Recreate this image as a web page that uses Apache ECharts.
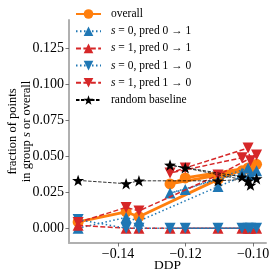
<!DOCTYPE html>
<html><head><meta charset="utf-8">
<script src="https://cdn.jsdelivr.net/npm/echarts@6/dist/echarts.min.js"></script>
<style>html,body{margin:0;padding:0;background:#fff}#c{width:274px;height:277px}</style>
</head><body><div id="c"></div>
<script>
// points in plotting order (DDP on x)
const ddp            = [-0.1518,-0.1376,-0.1338,-0.1104,-0.0990,-0.1033,-0.1246,-0.1201,-0.1015,-0.1008];
const overall        = [0.0044, 0.0113, 0.0080, 0.0340, 0.0445, 0.0400, 0.0308, 0.0350, 0.0420, 0.0410];
const s0Pred01       = [0.0000, 0.0075, 0.0050, 0.0290, 0.0400, 0.0385, 0.0245, 0.0270, 0.0420, 0.0370];
const s1Pred01       = [0.0020, 0,      0,      0,      0,      0,      0,      0,      0,      0     ];
const s0Pred10       = [0.0060, 0,      0,      0,      0,      0,      0,      0,      0,      0     ];
const s1Pred10       = [0.0040, 0.0145, 0.0120, 0.0370, 0.0510, 0.0490, 0.0385, 0.0420, 0.0558, 0.0470];
const randomBaseline = [0.0333, 0.0310, 0.0330, 0.0330, 0.0345, 0.0357, 0.0440, 0.0420, 0.0330, 0.0300];
const yTicks = [0, 0.025, 0.05, 0.075, 0.1, 0.125];
const xTicks = [-0.14, -0.12, -0.10];
const seriesNames = ['overall','s=0, pred 0\u21921','s=1, pred 0\u21921','s=0, pred 1\u21920','s=1, pred 1\u21920','random baseline'];

const FONT = 'Liberation Serif';
const STAR = 'path://M0,-10 L2.35,-3.24 L9.51,-3.09 L3.8,1.24 L5.88,8.09 L0,4 L-5.88,8.09 L-3.8,1.24 L-9.51,-3.09 L-2.35,-3.24 Z';

function pts(vals){ return ddp.map((x,i)=>[x, vals[i]]); }
function mk(name, vals, color, symbol, rot, dash, width, size, z){
  return {
    name, type:'line', data: pts(vals), z,
    symbol, symbolSize:size, symbolRotate:rot, symbolKeepAspect:true,
    lineStyle:{color, width, type:dash},
    itemStyle:{color, borderColor:color, borderWidth:0},
    emphasis:{disabled:true}, animation:false, clip:false
  };
}
const chart = echarts.init(document.getElementById('c'), null, {renderer:'canvas'});
chart.setOption({
  animation:false,
  backgroundColor:'#fff',
  grid:{left:69, right:8, top:20, bottom:34, containLabel:false, outerBoundsMode:'none'},
  xAxis:{
    type:'value', min:-0.1545, max:-0.0962,
    name:'DDP', nameLocation:'middle', nameGap:15, nameMoveOverlap:false,
    nameTextStyle:{fontFamily:FONT, fontSize:13.5, color:'#000'},
    axisLine:{show:true, onZero:false, lineStyle:{color:'#b0b0b0', width:2}},
    axisTick:{show:true, length:3.5, customValues:xTicks, lineStyle:{color:'#555', width:0.8}},
    axisLabel:{customValues:xTicks, fontFamily:FONT, fontSize:14, color:'#000', margin:4,
      formatter:v=>(v<0?'\u2212':'')+Math.abs(v).toFixed(2)},
    splitLine:{show:false}
  },
  yAxis:{
    type:'value', min:-0.0103, max:0.145,
    name:'fraction of points\nin group {i|s} or overall', nameLocation:'middle', nameRotate:90, nameGap:35, nameMoveOverlap:false,
    nameTextStyle:{fontFamily:FONT, fontSize:12.5, color:'#000', lineHeight:14,
      rich:{i:{fontFamily:FONT, fontStyle:'italic', fontSize:12.5, color:'#000'}}},
    axisLine:{show:true, onZero:false, lineStyle:{color:'#b0b0b0', width:2}},
    axisTick:{show:true, length:3.5, customValues:yTicks, lineStyle:{color:'#555', width:0.8}},
    axisLabel:{customValues:yTicks, fontFamily:FONT, fontSize:14, color:'#000', margin:5,
      formatter:v=>v.toFixed(3)},
    splitLine:{show:false}
  },
  legend:{
    orient:'vertical', left:75, top:8, padding:0, itemGap:5.2, itemWidth:25, itemHeight:12,
    data:seriesNames,
    formatter:n=>n.replace(/^s=(\d)/, '{i|s} = $1').replace('\u2192',' \u2192 '),
    textStyle:{fontFamily:FONT, fontSize:11.5, color:'#000', padding:[0,0,0,5],
      rich:{i:{fontFamily:FONT, fontStyle:'italic', fontSize:11.5, color:'#000'}}}
  },
  series:[
    mk(seriesNames[0], overall, '#ff7f0e', 'circle', 0, 'solid', 2.8, 11, 2),
    mk(seriesNames[1], s0Pred01, '#1f77b4', 'triangle', 0, [1.5,2.5], 1.5, 11, 3),
    mk(seriesNames[2], s1Pred01, '#d62728', 'triangle', 0, [5,2.4], 1.5, 11, 4),
    mk(seriesNames[3], s0Pred10, '#1f77b4', 'triangle', 180, [1.5,2.5], 1.5, 11, 5),
    mk(seriesNames[4], s1Pred10, '#d62728', 'triangle', 180, [5,2.4], 1.5, 11, 6),
    mk(seriesNames[5], randomBaseline, '#000000', STAR, 0, [3.5,1.5], 0.8, 12, 7)
  ]
});
</script></body></html>
